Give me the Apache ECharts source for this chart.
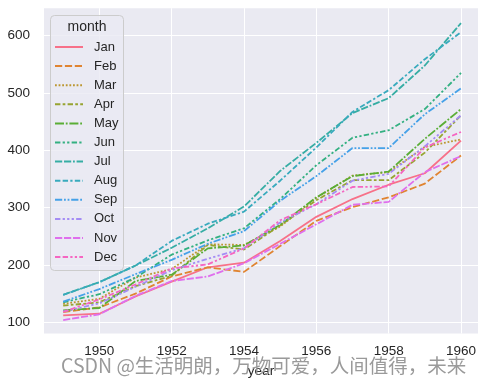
<!DOCTYPE html>
<html>
<head>
<meta charset="utf-8">
<script src="https://cdn.jsdelivr.net/npm/echarts@6/dist/echarts.min.js"></script>
<style>
html,body{margin:0;padding:0;background:#fff;}
#chart{width:488px;height:385px;}
</style>
</head>
<body>
<div id="chart"></div>
<script>
// ---- data ----
const years = [1949,1950,1951,1952,1953,1954,1955,1956,1957,1958,1959,1960];
const months = ['Jan','Feb','Mar','Apr','May','Jun','Jul','Aug','Sep','Oct','Nov','Dec'];
const jan = [112,115,145,171,196,204,242,284,315,340,360,417];
const feb = [118,126,150,180,196,188,233,277,301,318,342,391];
const mar = [132,141,178,193,236,235,267,317,356,362,406,419];
const apr = [129,135,163,181,235,227,269,313,348,348,396,461];
const may = [121,125,172,183,229,234,270,318,355,363,420,472];
const jun = [135,149,178,218,243,264,315,374,422,435,472,535];
const jul = [148,170,199,230,264,302,364,413,465,491,548,622];
const aug = [148,170,199,242,272,293,347,405,467,505,559,606];
const sep = [136,158,184,209,237,259,312,355,404,404,463,508];
const oct = [119,133,162,191,211,229,274,306,347,359,407,461];
const nov = [104,114,146,172,180,203,237,271,305,310,362,390];
const dec = [118,140,166,194,201,229,278,306,336,337,405,432];
const xTicks = [1950,1952,1954,1956,1958,1960];
const yTicks = [100,200,300,400,500,600];

// ---- style ----
const monthValues = [jan,feb,mar,apr,may,jun,jul,aug,sep,oct,nov,dec];
const colors = ['#f77189','#e08431','#bc9731','#97a431','#5aae36','#33b081',
                '#36ada4','#38aabd','#45a1e8','#a48cf4','#df6fed','#f566c2'];
const dashUnits = [
  null,
  [4,1.5],
  [1,1],
  [3,1.25,1.5,1.25],
  [5,1,1,1],
  [3,1.25,1.25,1.25,1.25,1.25],
  [4,1,4,1,1,1],
  [3,1.25,3,1.25,1.25,1.25],
  [4,1,1,1,1,1],
  [3,1.25,1.25,1.25,1.25,1.25,1.25,1.25],
  [4,1,4,1,4,1,1,1],
  [3,1.25,3,1.25,1.25,1.25,1.25,1.25]
];
const LW = 1.8, DS = 1.8;
const FONT = '"Liberation Sans", Arial, sans-serif';

const series = months.map((m, i) => ({
  name: m,
  type: 'line',
  symbol: 'none',
  data: years.map((y, j) => [y, monthValues[i][j]]),
  lineStyle: {
    color: colors[i],
    width: LW,
    type: dashUnits[i] ? dashUnits[i].map(v => v * DS) : 'solid'
  },
  itemStyle: { color: colors[i] },
  emphasis: { disabled: true },
  animation: false
}));

const chart = echarts.init(document.getElementById('chart'), null, {renderer: 'canvas'});
chart.setOption({
  animation: false,
  backgroundColor: '#ffffff',
  color: colors,
  grid: {
    left: 44, right: 10, top: 8.2, bottom: 51.5,
    show: true, backgroundColor: '#EAEAF2', borderWidth: 0
  },
  xAxis: {
    type: 'value',
    min: 1948.47, max: 1960.47,
    name: 'year',
    nameLocation: 'middle',
    nameGap: 31,
    nameTextStyle: { color: '#262626', fontSize: 13.5, fontFamily: FONT },
    axisLine: { show: false },
    axisTick: { show: false, customValues: xTicks },
    axisLabel: { customValues: xTicks, formatter: v => String(v), color: '#262626', fontSize: 13.5, fontFamily: FONT, margin: 11 },
    splitLine: { show: true, lineStyle: { color: '#ffffff', width: 1 } }
  },
  yAxis: {
    type: 'value',
    min: 80.5, max: 647.9,
    axisLine: { show: false },
    axisTick: { show: false, customValues: yTicks },
    axisLabel: { customValues: yTicks, formatter: v => String(v), color: '#262626', fontSize: 13.5, fontFamily: FONT, margin: 14 },
    splitLine: { show: true, lineStyle: { color: '#ffffff', width: 1 } }
  },
  legend: {
    orient: 'vertical',
    left: 54, top: 40,
    padding: 0,
    itemWidth: 28, itemHeight: 14, itemGap: 5.1,
    textStyle: { color: '#262626', fontSize: 13, fontFamily: FONT, lineHeight: 14, padding: [0,0,0,6] },
    itemStyle: { opacity: 0 },
    data: months,
    z: 10
  },
  graphic: [
    {
      type: 'rect', z: 5,
      shape: { x: 50.5, y: 15.5, width: 73, height: 255, r: 4 },
      style: { fill: 'rgba(234,234,242,0.8)', stroke: '#cccccc', lineWidth: 1 }
    },
    {
      type: 'text', z: 11,
      style: { x: 87, y: 27, text: 'month', fill: '#262626', font: '14px ' + FONT, textAlign: 'center', textVerticalAlign: 'middle' }
    },
    {
      type: 'text', z: 20,
      style: { x: 61, y: 366, text: 'CSDN @生活明朗，万物可爱，人间值得，未来', fill: '#9a9a9a',
               font: '19.5px "Noto Sans CJK SC", "Liberation Sans", sans-serif', textAlign: 'left', textVerticalAlign: 'middle' }
    }
  ],
  series: series
});
</script>
</body>
</html>
